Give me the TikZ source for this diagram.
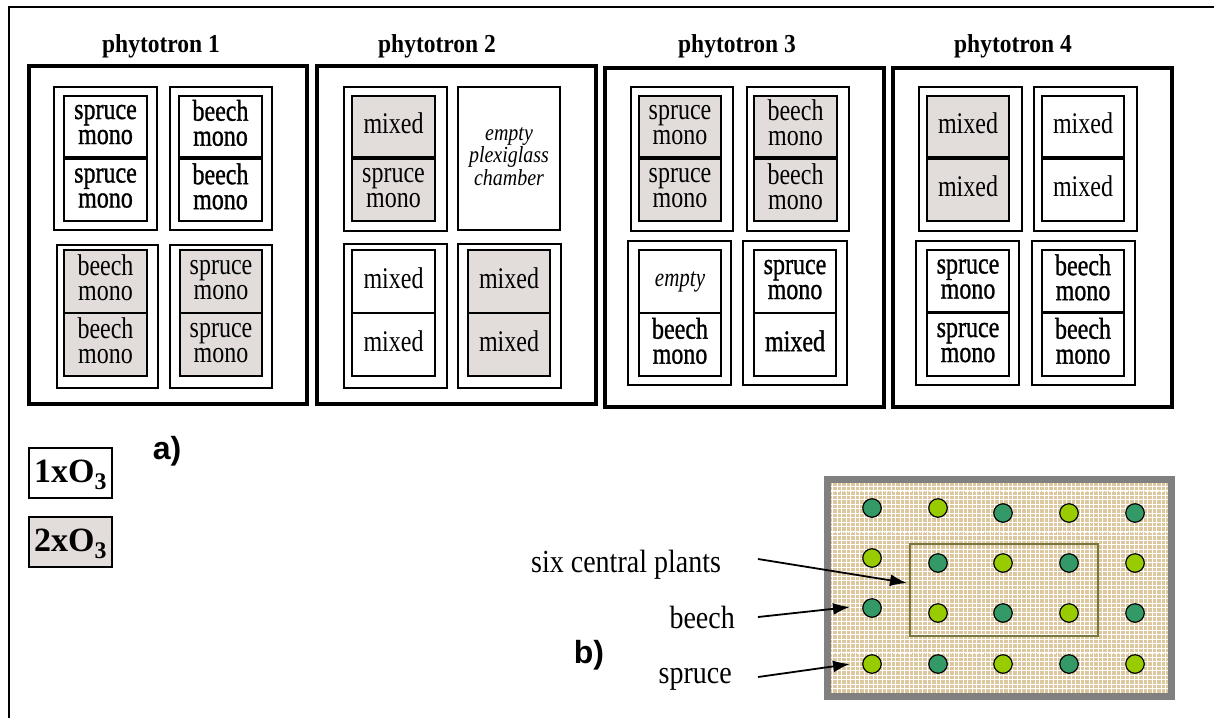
\documentclass[tikz,border=0pt]{standalone}
\usepackage{fontspec}
\setmainfont{Liberation Serif}
\newfontfamily\heavyfont{Liberation Serif}[FakeBold=1.1]
\newfontfamily\labsans{Liberation Sans}
\usetikzlibrary{fit,arrows.meta}
\definecolor{cellgray}{HTML}{E2DDDA}
\definecolor{darkg}{HTML}{339966}
\definecolor{lightg}{HTML}{99CC00}
\definecolor{plottan}{HTML}{DDC79E}
\definecolor{boxolive}{HTML}{77773F}
\definecolor{bordergray}{HTML}{808080}
\newcommand\ct[1]{\scalebox{1}[1.25]{\begin{tabular}{@{}c@{}}#1\end{tabular}}}
% name, x1, y1, x2, y2, box style, text style, text
\newcommand\cl[8]{\node[#6, fit={(#2,#3) (#4,#5)}] (#1) {};
  \node[#7] (#1t) at (#1.center) {\ct{#8}};}
\newcommand\gr[5]{\node[grp, fit={(#2,#3) (#4,#5)}] (#1) {};}
\tikzset{
  phyto/.style={draw, line width=3.2pt, inner sep=0pt},
  grp/.style={draw, line width=1.4pt, inner sep=0pt},
  bw/.style={draw, line width=2.4pt, fill=white, inner sep=0pt},
  bg/.style={bw, fill=cellgray},
  tn/.style={inner sep=0pt, font=\fontsize{24}{20}\selectfont},
  th/.style={inner sep=0pt, font=\heavyfont\fontsize{24}{20}\selectfont},
  ti/.style={inner sep=0pt, font=\itshape\fontsize{21}{19}\selectfont},
  chamber/.style={draw, line width=1.8pt, fill=white, inner sep=0pt},
  ptitle/.style={anchor=base, inner sep=0pt, font=\bfseries\fontsize{23.5}{26}\selectfont},
  leg/.style={draw, line width=1.5pt, inner sep=0pt},
  legt/.style={inner sep=0pt, font=\bfseries\fontsize{34}{36}\selectfont},
  partlab/.style={inner sep=0pt, font=\labsans\bfseries\fontsize{32}{34}\selectfont},
  plab/.style={inner sep=0pt, font=\fontsize{28}{30}\selectfont},
  plant/.style={circle, draw=black, line width=1.2pt, minimum size=18.5pt, inner sep=0pt},
  pointer/.style={line width=1.8pt, -{Latex[length=17pt,width=12pt]}}
}
\begin{document}
\begin{tikzpicture}[x=1pt,y=-1pt]
\useasboundingbox (0,0) rectangle (1214,718);
\fill[white] (0,0) rectangle (1214,718);
% outer frame (top and left)
\draw[line width=2pt] (1214,7) -- (9,7) -- (9,718);

% ---------- phytotron 1
\node[phyto, fit={(29,66) (307,404)}] (p1) {};
\node[ptitle] (t1) at (161,52) {\scalebox{1}[1.1]{phytotron 1}};
\gr{p1a}{54}{87}{157}{230}
\gr{p1b}{170}{87}{272}{230}
\gr{p1c}{57}{245}{158}{388}
\gr{p1d}{170}{245}{272}{388}
\cl{p1a1}{64}{96}{147}{157}{bw}{th}{spruce\\mono}
\cl{p1a2}{64}{159}{147}{221}{bw}{th}{spruce\\mono}
\cl{p1b1}{179}{96}{262}{157}{bw}{th}{beech\\mono}
\cl{p1b2}{179}{159}{262}{221}{bw}{th}{beech\\mono}
\cl{p1c1}{64}{250}{147}{313}{bg}{tn}{beech\\mono}
\cl{p1c2}{64}{313}{147}{376}{bg}{tn}{beech\\mono}
\cl{p1d1}{180}{250}{262}{313}{bg}{tn}{spruce\\mono}
\cl{p1d2}{180}{313}{262}{376}{bg}{tn}{spruce\\mono}

% ---------- phytotron 2
\node[phyto, fit={(317,66) (596,404)}] (p2) {};
\node[ptitle] (t2) at (437,52) {\scalebox{1}[1.1]{phytotron 2}};
\gr{p2a}{344}{87}{447}{231}
\gr{p2c}{344}{244}{447}{388}
\gr{p2d}{458}{244}{561}{388}
\cl{p2a1}{352}{96}{435}{157}{bg}{tn}{mixed}
\cl{p2a2}{352}{159}{435}{221}{bg}{tn}{spruce\\mono}
\node[chamber, fit={(458,87) (560,230)}] (p2b) {};
\node[inner sep=0pt, font=\itshape\fontsize{20}{19.5}\selectfont] (p2bt) at (p2b.center)
  {\scalebox{1}[1.15]{\begin{tabular}{@{}c@{}}empty\\plexiglass\\chamber\end{tabular}}};
\cl{p2c1}{352}{250}{435}{313}{bw}{tn}{mixed}
\cl{p2c2}{352}{313}{435}{376}{bw}{tn}{mixed}
\cl{p2d1}{468}{250}{550}{313}{bg}{tn}{mixed}
\cl{p2d2}{468}{313}{550}{376}{bg}{tn}{mixed}

% ---------- phytotron 3
\node[phyto, fit={(605,68) (884,407)}] (p3) {};
\node[ptitle] (t3) at (737,52) {\scalebox{1}[1.1]{phytotron 3}};
\gr{p3a}{631}{87}{733}{231}
\gr{p3b}{747}{87}{849}{231}
\gr{p3c}{628}{241}{731}{385}
\gr{p3d}{743}{241}{847}{385}
\cl{p3a1}{639}{96}{721}{157}{bg}{tn}{spruce\\mono}
\cl{p3a2}{639}{159}{721}{221}{bg}{tn}{spruce\\mono}
\cl{p3b1}{754}{96}{837}{157}{bg}{tn}{beech\\mono}
\cl{p3b2}{754}{159}{837}{221}{bg}{tn}{beech\\mono}
\cl{p3c1}{639}{250}{721}{313}{bw}{ti}{empty}
\cl{p3c2}{639}{313}{721}{376}{bw}{th}{beech\\mono}
\cl{p3d1}{754}{250}{836}{313}{bw}{th}{spruce\\mono}
\cl{p3d2}{754}{313}{836}{376}{bw}{th}{mixed}

% ---------- phytotron 4
\node[phyto, fit={(893,68) (1172,407)}] (p4) {};
\node[ptitle] (t4) at (1013,52) {\scalebox{1}[1.1]{phytotron 4}};
\gr{p4a}{919}{87}{1022}{231}
\gr{p4b}{1034}{87}{1137}{231}
\gr{p4c}{916}{241}{1019}{385}
\gr{p4d}{1032}{241}{1135}{385}
\cl{p4a1}{927}{96}{1009}{157}{bg}{tn}{mixed}
\cl{p4a2}{927}{159}{1009}{221}{bg}{tn}{mixed}
\cl{p4b1}{1042}{96}{1124}{157}{bw}{tn}{mixed}
\cl{p4b2}{1042}{159}{1124}{221}{bw}{tn}{mixed}
\cl{p4c1}{927}{250}{1009}{312}{bw}{th}{spruce\\mono}
\cl{p4c2}{927}{313}{1009}{376}{bw}{th}{spruce\\mono}
\cl{p4d1}{1042}{250}{1124}{312}{bw}{th}{beech\\mono}
\cl{p4d2}{1042}{313}{1124}{376}{bw}{th}{beech\\mono}

% ---------- legend and part labels
\node[leg, fill=white, fit={(29,448) (112,498)}] (leg1) {};
\node[legt] (leg1t) at ([yshift=-2pt]leg1.center) {1xO\textsubscript{3}};
\node[leg, fill=cellgray, fit={(29,517) (112,567)}] (leg2) {};
\node[legt] (leg2t) at ([yshift=-2pt]leg2.center) {2xO\textsubscript{3}};
\node[partlab] (la) at (167,451) {a)};
\node[partlab] (lb) at (589,655) {b)};

% ---------- plot b
\begin{scope}
  \clip (831,483) rectangle (1168,693);
  \fill[plottan] (831,483) rectangle (1168,693);
  \draw[white, line width=1pt, step=4.5pt] (831,483) grid (1168,693);
  \draw[white, line width=1.4pt, densely dotted] (831,491) -- (1168,491);
  \draw[white, line width=1.4pt, densely dotted] (831,532) -- (1168,532);
  \draw[white, line width=1.4pt, densely dotted] (831,653) -- (1168,653);
\end{scope}
\draw[bordergray, line width=7pt] (827.5,479.5) rectangle (1171.5,696.5);
\node[draw=boxolive, line width=2pt, inner sep=0pt, fit={(910,544) (1098,636)}] (cbox) {};
\foreach \px/\py/\pc [count=\i] in {
  872/508/darkg, 938/508/lightg, 1003/513/darkg, 1069/513/lightg, 1135/513/darkg,
  872/558/lightg, 938/563/darkg, 1003/563/lightg, 1069/563/darkg, 1135/563/lightg,
  872/608/darkg, 938/613/lightg, 1003/613/darkg, 1069/613/lightg, 1135/613/darkg,
  872/664/lightg, 938/664/darkg, 1003/664/lightg, 1069/664/darkg, 1135/664/lightg}
  \node[plant, fill=\pc] (c\i) at (\px,\py) {};

% labels and pointers
\node[plab, anchor=base west] (lsix) at (531,572) {\scalebox{1}[1.15]{six central plants}};
\node[plab, anchor=base east] (lbeech) at (735,628) {\scalebox{1}[1.15]{beech}};
\node[plab, anchor=base east] (lspruce) at (732,683) {\scalebox{1}[1.15]{spruce}};
\coordinate (s1) at (758,559);
\coordinate (e1) at (907,583);
\coordinate (s2) at (758,617);
\coordinate (e2) at (850,607);
\coordinate (s3) at (758,677);
\coordinate (e3) at (850,664);
\draw[pointer] (s1) -- (e1);
\draw[pointer] (s2) -- (e2);
\draw[pointer] (s3) -- (e3);
\end{tikzpicture}
\end{document}
